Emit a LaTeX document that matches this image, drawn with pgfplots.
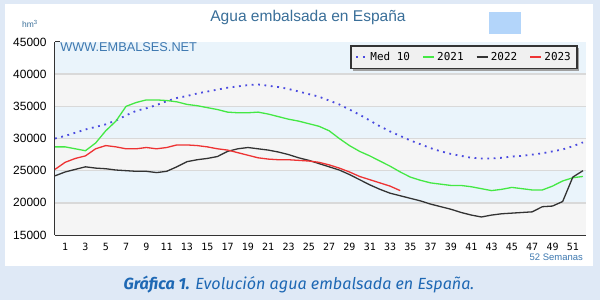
\documentclass[border=0pt]{standalone}
\usepackage{pgfplots}
\pgfplotsset{compat=1.18}
\usepackage{fontspec}
\setmainfont{Liberation Sans}
\newfontfamily\monof{DejaVu Sans Mono}
\newfontfamily\capf{Fira Sans}
\definecolor{outerbg}{HTML}{DFE9F6}
\definecolor{bandblue}{HTML}{EAF4FB}
\definecolor{bandgray}{HTML}{F5F5F5}
\definecolor{gridc}{HTML}{D9D9D9}
\definecolor{titleblue}{HTML}{3A6F99}
\definecolor{webblue}{HTML}{3D78B0}
\definecolor{capblue}{HTML}{1E68B4}
\definecolor{medblue}{HTML}{4A4AE0}
\definecolor{gA}{HTML}{44E844}
\definecolor{kB}{HTML}{333333}
\definecolor{rC}{HTML}{EE3333}
\definecolor{sq}{HTML}{B3D5FA}
\definecolor{axc}{HTML}{333333}
\definecolor{shad}{HTML}{A0A0A0}
\definecolor{legbg}{HTML}{F0F0F0}

\pgfplotstableread{
w v
0 30000
1 30400
2 30900
3 31400
4 31800
5 32200
6 32800
7 33600
8 34300
9 34700
10 35200
11 35800
12 36300
13 36600
14 37000
15 37300
16 37600
17 37900
18 38100
19 38300
20 38400
21 38200
22 38000
23 37700
24 37300
25 36900
26 36500
27 35900
28 35300
29 34500
30 33700
31 32800
32 31900
33 31100
34 30400
35 29700
36 29100
37 28500
38 28000
39 27600
40 27300
41 27000
42 26900
43 26900
44 27000
45 27200
46 27300
47 27500
48 27700
49 28000
50 28300
51 28800
52 29400
}\medten

\pgfplotstableread{
w v
0 28700
1 28700
2 28400
3 28100
4 29300
5 31200
6 32700
7 35000
8 35600
9 36000
10 36000
11 35900
12 35700
13 35300
14 35100
15 34800
16 34500
17 34100
18 34000
19 34000
20 34100
21 33800
22 33400
23 33000
24 32700
25 32300
26 31900
27 31200
28 30000
29 28900
30 28000
31 27300
32 26500
33 25700
34 24800
35 24000
36 23500
37 23100
38 22900
39 22700
40 22700
41 22500
42 22200
43 21900
44 22100
45 22400
46 22200
47 22000
48 22000
49 22600
50 23400
51 23900
52 24100
}\yrA

\pgfplotstableread{
w v
0 24200
1 24800
2 25200
3 25600
4 25400
5 25300
6 25100
7 25000
8 24900
9 24900
10 24700
11 24900
12 25600
13 26400
14 26700
15 26900
16 27200
17 28000
18 28400
19 28600
20 28400
21 28200
22 27900
23 27500
24 27000
25 26600
26 26100
27 25600
28 25100
29 24400
30 23600
31 22800
32 22100
33 21500
34 21100
35 20700
36 20300
37 19800
38 19400
39 19000
40 18500
41 18100
42 17800
43 18100
44 18300
45 18400
46 18500
47 18600
48 19400
49 19500
50 20200
51 24000
52 25000
}\yrB

\pgfplotstableread{
w v
0 25200
1 26300
2 26900
3 27300
4 28400
5 28900
6 28700
7 28400
8 28400
9 28600
10 28400
11 28600
12 29000
13 29000
14 28900
15 28700
16 28400
17 28200
18 27800
19 27400
20 27000
21 26800
22 26700
23 26700
24 26600
25 26500
26 26300
27 25900
28 25400
29 24800
30 24100
31 23600
32 23100
33 22600
34 21900
}\yrC

\begin{document}
\begin{tikzpicture}[x=1bp,y=1bp]
\fill[outerbg] (0,0) rectangle (600,300);
\fill[white] (5,34) rectangle (593,296);
\fill[sq] (489,266) rectangle (521,288);
\node[anchor=base, font=\fontsize{15.6}{15.6}\selectfont, text=titleblue, inner sep=0] at (308,279) {Agua embalsada en España};
\node[anchor=base, font=\fontsize{8.5}{8.5}\selectfont, text=titleblue, inner sep=0] at (30,273) {hm\textsuperscript{3}};
\node[anchor=base, font=\capf\fontsize{16.2}{16.2}\selectfont, text=capblue, inner sep=0] at (299,11) {\textbf{\textit{Gráfica 1.}} \textit{Evolución agua embalsada en España.}};
\node[anchor=base east, font=\fontsize{9.5}{9.5}\selectfont, text=webblue, inner sep=0] at (583,40) {52 Semanas};
\begin{axis}[
  at={(55bp,65bp)}, anchor=south west,
  scale only axis, width=531bp, height=193bp,
  xmin=0, xmax=52.3, ymin=15000, ymax=45000,
  axis x line*=bottom, axis y line*=left,
  axis line style={draw=axc, line width=1.5bp, -},
  tick style={draw=axc, line width=1bp},
  tick align=inside,
  major tick length=5bp, minor tick length=4bp,
  xtick={1,3,...,51}, minor xtick={2,4,...,52},
  ytick={15000,20000,...,45000}, minor y tick num=4,
  scaled y ticks=false,
  /pgf/number format/.cd, fixed, 1000 sep={}, assume math mode=true, /pgfplots/.cd,
  yticklabel style={font=\fontsize{12}{12}\selectfont, text=black, xshift=-5bp},
  xticklabel style={font=\monof\fontsize{10}{10}\selectfont, text=black, yshift=-5bp},
  legend style={at={(0.983,0.979)}, anchor=north east, font=\monof\fontsize{11}{11}\selectfont,
    draw=none, fill=legbg, legend columns=4,
    inner xsep=4bp, inner ysep=4bp, name=leg,
    /tikz/every even column/.append style={column sep=10bp}},
  legend image code/.code={\draw[#1, line width=2.2bp] (0bp,0bp) -- (11bp,0bp);},
  clip=false,
]
\fill[bandblue] (axis cs:0,40000) rectangle (axis cs:52.3,45000);
\fill[bandgray] (axis cs:0,35000) rectangle (axis cs:52.3,40000);
\fill[bandblue] (axis cs:0,30000) rectangle (axis cs:52.3,35000);
\fill[bandgray] (axis cs:0,25000) rectangle (axis cs:52.3,30000);
\fill[bandblue] (axis cs:0,20000) rectangle (axis cs:52.3,25000);
\fill[bandgray] (axis cs:0,15000) rectangle (axis cs:52.3,20000);
\draw[gridc, line width=1.5bp] (axis cs:0,20000) -- (axis cs:52.3,20000);
\draw[gridc, line width=1.5bp] (axis cs:0,25000) -- (axis cs:52.3,25000);
\draw[gridc, line width=1.5bp] (axis cs:0,30000) -- (axis cs:52.3,30000);
\draw[gridc, line width=1.5bp] (axis cs:0,35000) -- (axis cs:52.3,35000);
\draw[gridc, line width=1.5bp] (axis cs:0,40000) -- (axis cs:52.3,40000);
\node[anchor=base west, font=\fontsize{12.8}{12.8}\selectfont, text=webblue, inner sep=0] at (axis cs:0.5,43600) {WWW.EMBALSES.NET};
\addplot[color=medblue, line width=1.8bp, dash pattern=on 1.8bp off 4.6bp] table[x=w,y=v] {\medten};
\addlegendentry{Med 10}
\addplot[color=gA, line width=1.3bp] table[x=w,y=v] {\yrA};
\addlegendentry{2021}
\addplot[color=kB, line width=1.3bp] table[x=w,y=v] {\yrB};
\addlegendentry{2022}
\addplot[color=rC, line width=1.3bp] table[x=w,y=v] {\yrC};
\addlegendentry{2023}
\end{axis}
\draw[axc, line width=1.5bp] (leg.south west) rectangle (leg.north east);
\fill[shad] ([xshift=0.75bp,yshift=-2bp]leg.north east) rectangle ([xshift=2.5bp,yshift=-2.5bp]leg.south east);
\fill[shad] ([xshift=2bp,yshift=-0.75bp]leg.south west) rectangle ([xshift=2.5bp,yshift=-2.5bp]leg.south east);
\end{tikzpicture}
\end{document}
